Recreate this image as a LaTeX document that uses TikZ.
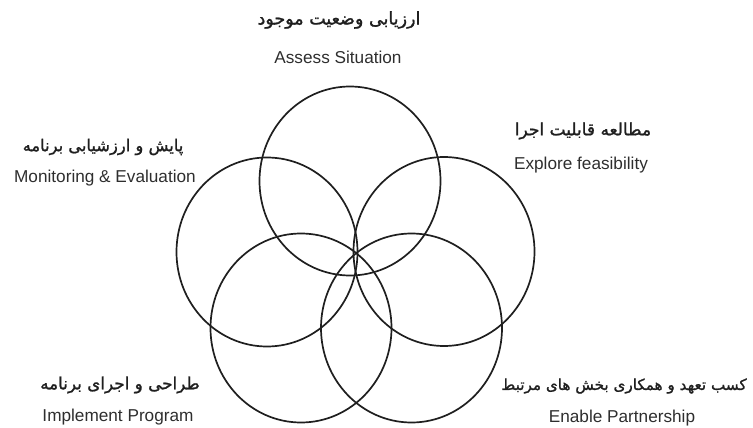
\documentclass[tikz,border=0pt]{standalone}
\usepackage{fontspec}
\setmainfont{Liberation Sans}
\newfontfamily\arabicfont[Script=Arabic,FakeBold=1.2]{DejaVu Sans}
\TeXXeTstate=1
\begin{document}
\begin{tikzpicture}[x=1pt,y=-1pt,
  ring/.style={draw=black!88,line width=1.7pt},
  en/.style={font=\fontsize{17.2}{19}\selectfont,text=black!82,inner sep=0pt,anchor=center},
  fa/.style={font=\arabicfont\bfseries,text=black!88,inner sep=0pt,anchor=center}]
\useasboundingbox (0,0) rectangle (753,428);
% circles
\draw[ring] (350,181) ellipse [x radius=90.5, y radius=94.5];
\draw[ring] (267,252) ellipse [x radius=90.5, y radius=94.5];
\draw[ring] (444,251.5) ellipse [x radius=90.5, y radius=94.5];
\draw[ring] (301,328) ellipse [x radius=90.5, y radius=94.5];
\draw[ring] (411.5,328) ellipse [x radius=90.5, y radius=94.5];
% labels
\node[fa,font=\arabicfont\fontsize{17.5}{19}\selectfont] (t1fa) at (339,20) {\beginR ارزیابی وضعیت موجود\endR};
\node[en] (t1en) at (338,57) {Assess Situation};
\node[fa,font=\arabicfont\fontsize{16.3}{19}\selectfont] (t2fa) at (103,147) {\beginR پایش و ارزشیابی برنامه\endR};
\node[en] (t2en) at (105,178) {Monitoring \& Evaluation};
\node[fa,font=\arabicfont\fontsize{17}{19}\selectfont] (t3fa) at (583,131) {\beginR مطالعه قابلیت اجرا\endR};
\node[en] (t3en) at (581,165) {Explore feasibility};
\node[fa,font=\arabicfont\fontsize{16.8}{19}\selectfont] (t4fa) at (120,385) {\beginR طراحی و اجرای برنامه\endR};
\node[en] (t4en) at (118,417) {Implement Program};
\node[fa,font=\arabicfont\fontsize{15.2}{19}\selectfont] (t5fa) at (624,386) {\beginR کسب تعهد و همکاری بخش های مرتبط\endR};
\node[en] (t5en) at (622,418) {Enable Partnership};
\end{tikzpicture}
\end{document}
